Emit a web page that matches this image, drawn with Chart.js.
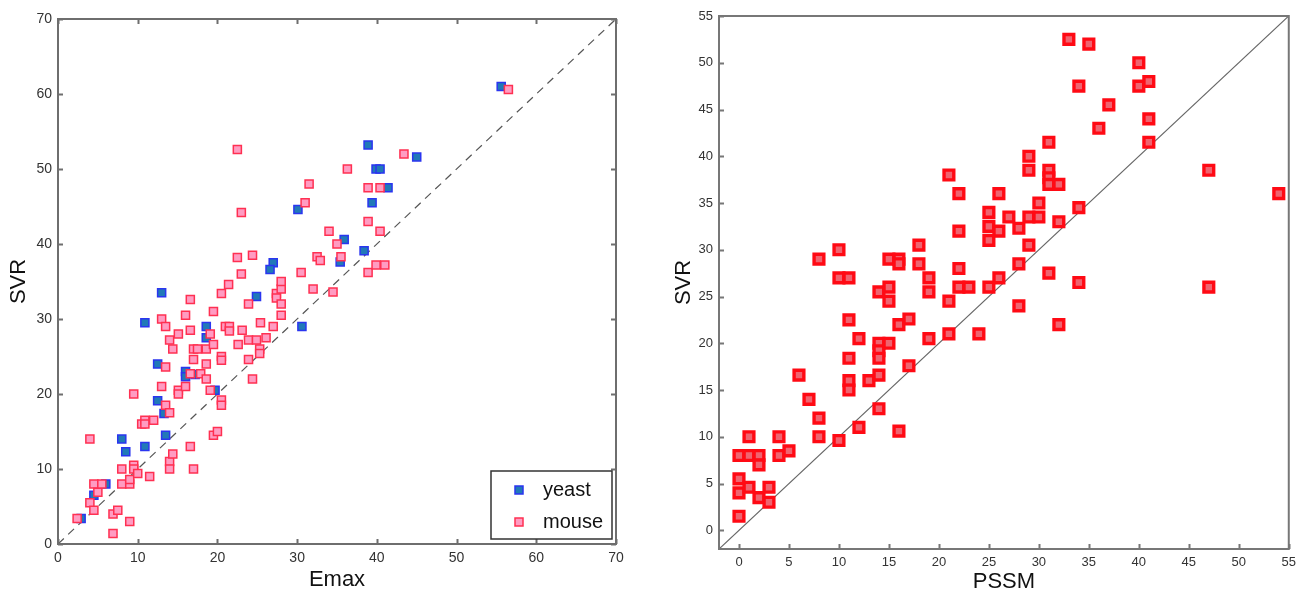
<!DOCTYPE html>
<html>
<head>
<meta charset="utf-8">
<script src="https://cdn.jsdelivr.net/npm/chart.js@4.4.1/dist/chart.umd.min.js"></script>
<style>
  body { margin: 0; background: #fff; }
  #wrap { position: relative; width: 1302px; height: 593px; }
  #emaxChart { position: absolute; left: 0; top: 0; }
  #pssmChart { position: absolute; left: 650px; top: 0; }
</style>
</head>
<body>
<div id="wrap">
  <canvas id="emaxChart" width="650" height="593"></canvas>
  <canvas id="pssmChart" width="652" height="593"></canvas>
</div>
<script>
// Emax vs SVR, yeast
const yeastEmax = [2.9, 4.5, 6, 8, 8.5, 10.9, 10.9, 12.5, 12.5, 13, 13.3, 13.5, 16, 16, 17.2, 18.6, 18.6, 19.7,
  24.9, 30.6, 27, 26.6, 30.1, 35.9, 35.4, 38.4, 38.9, 39.4, 39.9, 40.4, 41.4, 45, 55.6];
const yeastSVR = [3.4, 6.5, 8, 14, 12.3, 29.5, 13, 24, 19.1, 33.5, 17.4, 14.5, 23, 22.3, 22.6, 29, 27.5, 20.5,
  33, 29, 37.5, 36.6, 44.6, 40.6, 37.6, 39.1, 53.2, 45.5, 50, 50, 47.5, 51.6, 61];

// Emax vs SVR, mouse
const mouseEmax = [2.4, 4, 4, 4.5, 4.5, 5, 5.5, 6.9, 6.9, 7.5, 8, 8, 9, 9, 9, 9.5, 9.5, 9.5, 10, 10.5,
  10.9, 10.9, 11.5, 12, 13, 13, 13.5, 13.5, 13.5, 14, 14, 14, 14, 14.4, 14.4, 15.1, 15.1, 15.1, 16, 16,
  16.6, 16.6, 16.6, 16.6, 17, 17, 17, 17.5, 17.9, 18.6, 18.6, 18.6, 19.1, 19.1, 19.5, 19.5, 19.5, 20, 20.5, 20.5,
  20.5, 20.5, 20.5, 21, 21.5, 21.5, 22.6, 23.1, 23.9, 23.9, 23.9, 24.4, 24.9, 25.3, 25.3, 25.4, 26.1, 27, 27.4, 27.4,
  28, 28, 28, 28, 32, 22.5, 23, 22.5, 23, 24.4, 21.4, 30.5, 31, 31.5, 32.5, 32.9, 34, 34.5, 35, 35.5,
  36.3, 38.9, 40.4, 38.9, 38.9, 39.9, 41, 40.4, 43.4, 56.5];
const mouseSVR = [3.4, 14, 5.5, 8, 4.5, 6.9, 8, 4, 1.4, 4.5, 10, 8, 8, 8.6, 3, 20, 10.5, 10, 9.4, 16,
  16.5, 16, 9, 16.5, 30, 21, 29, 23.6, 18.5, 27.2, 17.5, 11, 10, 12, 26, 28, 20.5, 20, 30.5, 21,
  32.6, 28.5, 22.7, 13, 26, 24.6, 10, 26, 22.7, 26, 24, 22, 28, 20.5, 31, 26.6, 14.5, 15, 33.4, 25,
  24.5, 19.2, 18.5, 29, 29, 28.4, 26.6, 28.5, 32, 27.2, 24.6, 22, 27.2, 26, 25.4, 29.5, 27.5, 29, 33.4, 32.8,
  34, 32, 30.5, 35, 34, 52.6, 44.2, 38.2, 36, 38.5, 34.6, 36.2, 45.5, 48, 38.3, 37.8, 41.7, 33.6, 40, 38.3,
  50, 47.5, 47.5, 43, 36.2, 37.2, 37.2, 41.7, 52, 60.6];

// PSSM vs SVR
const pssmScore = [0, 1, 1, 2, 2, 0, 0, 1, 2, 3, 3, 0, 4, 4, 5, 6, 7, 8, 8, 8,
  10, 10, 10, 11, 11, 11, 11, 11, 12, 12, 13, 14, 14, 14, 14, 14, 14, 15, 15, 15,
  15, 16, 16, 16, 16, 17, 17, 18, 18, 19, 19, 19, 21, 21, 21, 22, 22, 22, 22, 23,
  24, 25, 25, 25, 25, 26, 26, 26, 27, 28, 28, 28, 29, 29, 29, 29, 30, 30, 31, 31,
  31, 31, 31, 32, 32, 32, 33, 34, 34, 34, 35, 36, 37, 40, 40, 41, 41, 41, 47, 47, 54];
const pssmSVR = [8, 10, 8, 8, 7, 5.5, 4, 4.6, 3.5, 4.6, 3, 1.5, 10, 8, 8.5, 16.6, 14, 12, 10, 29,
  9.6, 30, 27, 27, 22.5, 18.4, 16, 15, 20.5, 11, 16, 25.5, 20, 19.2, 18.4, 16.6, 13, 29, 26, 24.5,
  20, 29, 28.5, 22, 10.6, 22.6, 17.6, 30.5, 28.5, 27, 25.5, 20.5, 38, 24.5, 21, 36, 32, 28, 26, 26,
  21, 34, 32.5, 31, 26, 36, 32, 27, 33.5, 32.3, 28.5, 24, 40, 38.5, 33.5, 30.5, 35, 33.5, 41.5, 38.5,
  37.7, 37, 27.5, 37, 33, 22, 52.5, 47.5, 34.5, 26.5, 52, 43, 45.5, 50, 47.5, 48, 44, 41.5, 38.5, 26, 36];

const emaxTicks = [0, 10, 20, 30, 40, 50, 60, 70];
const pssmTicks = [0, 5, 10, 15, 20, 25, 30, 35, 40, 45, 50, 55];

const FONT = '"Liberation Sans", Arial, Helvetica, sans-serif';

function toPoints(xs, ys) {
  return xs.map((x, i) => ({ x: x, y: ys[i] }));
}

// box around the plot area, with short inward tick marks
const framePlugin = {
  id: 'frame',
  afterDatasetsDraw(chart, args, o) {
    const { ctx, chartArea: a, scales: { x, y } } = chart;
    ctx.save();
    ctx.strokeStyle = o.color;
    ctx.lineWidth = o.width;
    ctx.strokeRect(a.left, a.top, a.right - a.left, a.bottom - a.top);
    ctx.beginPath();
    x.ticks.forEach(t => {
      const px = Math.round(x.getPixelForValue(t.value)) + 0.5;
      if (o.bottom) { ctx.moveTo(px, a.bottom); ctx.lineTo(px, a.bottom - o.tick); }
      if (o.top) { ctx.moveTo(px, a.top); ctx.lineTo(px, a.top + o.tick); }
    });
    y.ticks.forEach(t => {
      const py = Math.round(y.getPixelForValue(t.value)) + 0.5;
      if (o.left) { ctx.moveTo(a.left, py); ctx.lineTo(a.left + o.tick, py); }
      if (o.right) { ctx.moveTo(a.right, py); ctx.lineTo(a.right - o.tick, py); }
    });
    ctx.stroke();
    ctx.restore();
  }
};

// legend box in the lower right corner of the plot
const boxLegendPlugin = {
  id: 'boxLegend',
  afterDraw(chart, args, o) {
    if (!o.display) return;
    const { ctx, chartArea: a } = chart;
    const items = chart.data.datasets.filter(d => d.label);
    const w = 121, h = 68;
    const bx = a.right - 4 - w, by = a.bottom - 5 - h;
    ctx.save();
    ctx.fillStyle = '#fff';
    ctx.fillRect(bx, by, w, h);
    ctx.strokeStyle = '#333';
    ctx.lineWidth = 1.5;
    ctx.strokeRect(bx, by, w, h);
    ctx.font = '20px ' + FONT;
    ctx.textBaseline = 'middle';
    items.forEach((d, i) => {
      const cy = by + 19 + i * 32;
      ctx.fillStyle = d.backgroundColor;
      ctx.strokeStyle = d.borderColor;
      ctx.lineWidth = d.borderWidth;
      ctx.fillRect(bx + 24, cy - 4, 8, 8);
      ctx.strokeRect(bx + 24, cy - 4, 8, 8);
      ctx.fillStyle = '#111';
      ctx.fillText(d.label, bx + 52, cy);
    });
    ctx.restore();
  }
};

function makeScale(opts) {
  return {
    type: 'linear',
    min: opts.min,
    max: opts.max,
    afterBuildTicks: s => { s.ticks = opts.ticks.map(v => ({ value: v })); },
    afterFit: s => {
      if (opts.height) s.height = opts.height;
      if (opts.width) s.width = opts.width;
    },
    grid: { display: false, drawTicks: false },
    border: { display: false },
    ticks: {
      padding: opts.pad,
      color: '#333',
      font: { family: FONT, size: opts.tickSize }
    },
    title: {
      display: true,
      text: opts.title,
      color: '#111',
      font: { family: FONT, size: 22, lineHeight: 1 },
      padding: opts.titlePad
    }
  };
}

function diagonal(from, to, dash, color) {
  return {
    label: '',
    data: [{ x: from, y: from }, { x: to, y: to }],
    showLine: true,
    pointRadius: 0,
    borderColor: color,
    borderWidth: 1.2,
    borderDash: dash,
    order: 3
  };
}

new Chart(document.getElementById('emaxChart'), {
  type: 'scatter',
  data: {
    datasets: [
      {
        label: 'yeast',
        data: toPoints(yeastEmax, yeastSVR),
        pointStyle: 'rect',
        pointRadius: 5.7,
        backgroundColor: '#2179b8',
        borderColor: '#2a35f0',
        borderWidth: 1.5,
        order: 2
      },
      {
        label: 'mouse',
        data: toPoints(mouseEmax, mouseSVR),
        pointStyle: 'rect',
        pointRadius: 5.7,
        backgroundColor: '#ff9cc2',
        borderColor: '#ff3052',
        borderWidth: 1.5,
        order: 1
      },
      diagonal(0, 70, [8, 6], '#555')
    ]
  },
  options: {
    responsive: false,
    animation: false,
    layout: { padding: { top: 19, right: 34, left: 0, bottom: 0 } },
    scales: {
      x: makeScale({ min: 0, max: 70, ticks: emaxTicks, height: 49, pad: 6, tickSize: 14,
        title: 'Emax', titlePad: { top: 0, bottom: 2 } }),
      y: makeScale({ min: 0, max: 70, ticks: emaxTicks, width: 58, pad: 6, tickSize: 14,
        title: 'SVR', titlePad: { top: 8, bottom: 0 } })
    },
    plugins: {
      legend: { display: false },
      tooltip: { enabled: false },
      frame: { color: '#6e6e6e', width: 2, tick: 5, top: true, bottom: true, left: true, right: true },
      boxLegend: { display: true }
    }
  },
  plugins: [framePlugin, boxLegendPlugin]
});

new Chart(document.getElementById('pssmChart'), {
  type: 'scatter',
  data: {
    datasets: [
      {
        label: 'PSSM',
        data: toPoints(pssmScore, pssmSVR),
        pointStyle: 'rect',
        pointRadius: 6.9,
        backgroundColor: '#ef6470',
        borderColor: '#ff0a14',
        borderWidth: 3.4,
        order: 1
      },
      diagonal(-2, 55, [], '#666')
    ]
  },
  options: {
    responsive: false,
    animation: false,
    layout: { padding: { top: 16, right: 10, left: 0, bottom: 0 } },
    scales: {
      x: makeScale({ min: -2, max: 55, ticks: pssmTicks, height: 44, pad: 6, tickSize: 13,
        title: 'PSSM', titlePad: { top: 0, bottom: 0 } }),
      y: makeScale({ min: -2, max: 55, ticks: pssmTicks, width: 69, pad: 6, tickSize: 13,
        title: 'SVR', titlePad: { top: 23, bottom: 0 } })
    },
    plugins: {
      legend: { display: false },
      tooltip: { enabled: false },
      frame: { color: '#777', width: 2, tick: 5, top: false, bottom: true, left: true, right: false },
      boxLegend: { display: false }
    }
  },
  plugins: [framePlugin, boxLegendPlugin]
});
</script>
</body>
</html>
